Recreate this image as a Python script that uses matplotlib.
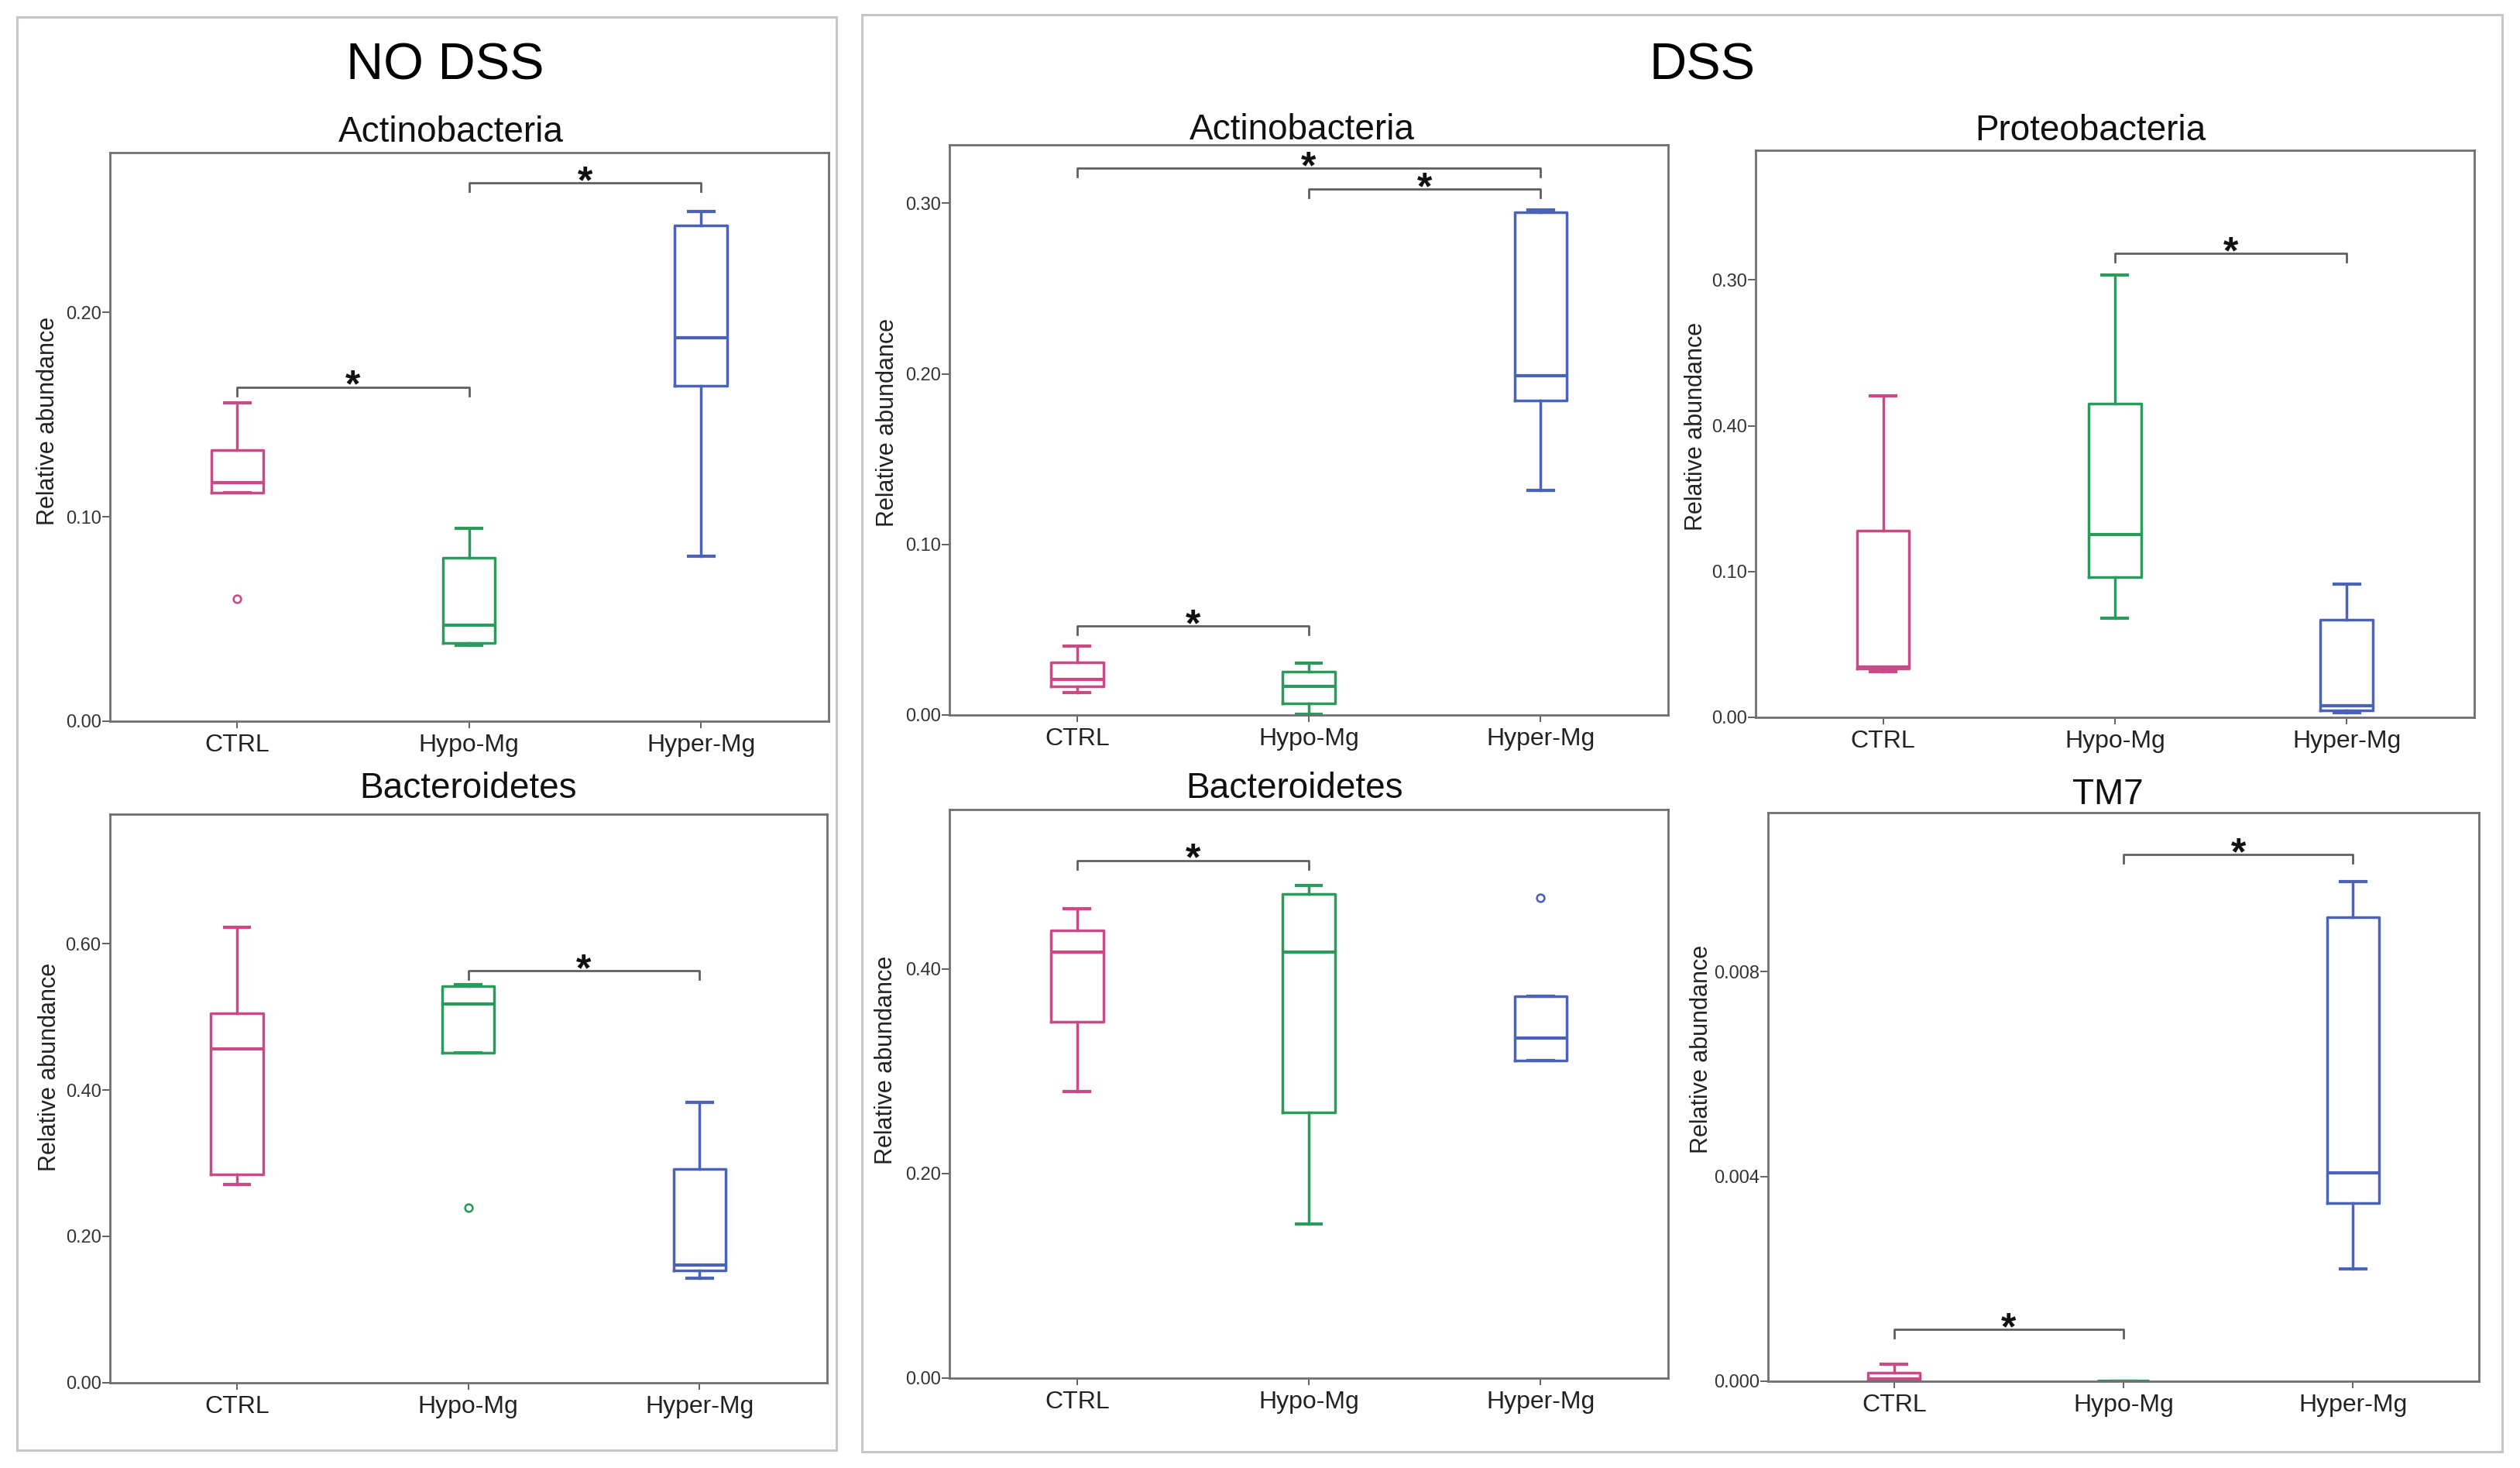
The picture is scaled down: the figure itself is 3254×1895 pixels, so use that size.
import matplotlib
matplotlib.use("Agg")
import matplotlib.pyplot as plt
from matplotlib.patches import Rectangle

plt.rcParams['font.family'] = ['Liberation Sans', 'DejaVu Sans']

groups = ["CTRL", "Hypo-Mg", "Hyper-Mg"]
group_colors = ["#c94b86", "#2a9b5d", "#4b62b9"]

# box stats per group: [whisker low, q1, median, q3, whisker high]
nodss_actino = [[0.1118, 0.1118, 0.1166, 0.1327, 0.1557],
                [0.0372, 0.0384, 0.0469, 0.0799, 0.0943],
                [0.0806, 0.1640, 0.1877, 0.2427, 0.2493]]
nodss_actino_fliers = [[0.0597], [], []]
nodss_actino_sig = [(0, 1, 0.1635), (1, 2, 0.2635)]

nodss_bact = [[0.2703, 0.2842, 0.4566, 0.5046, 0.6227],
              [0.4510, 0.4510, 0.5179, 0.5419, 0.5438],
              [0.1427, 0.1528, 0.1604, 0.2918, 0.3834]]
nodss_bact_fliers = [[], [0.2394], []]
nodss_bact_sig = [(1, 2, 0.5634)]

dss_actino = [[0.0133, 0.0167, 0.0210, 0.0309, 0.0403],
              [0.0006, 0.0068, 0.0167, 0.0253, 0.0304],
              [0.1317, 0.1842, 0.1990, 0.2949, 0.2963]]
dss_actino_fliers = [[], [], []]
dss_actino_sig = [(0, 2, 0.3207), (1, 2, 0.3085), (0, 1, 0.0522)]

dss_proteo = [[0.0312, 0.0332, 0.0345, 0.1278, 0.2204],
              [0.0680, 0.0959, 0.1255, 0.2154, 0.3033],
              [0.0033, 0.0050, 0.0080, 0.0670, 0.0913]]
dss_proteo_fliers = [[], [], []]
dss_proteo_sig = [(1, 2, 0.3183)]

dss_bact = [[0.2804, 0.3485, 0.4167, 0.4375, 0.4587],
            [0.1503, 0.2596, 0.4167, 0.4731, 0.4817],
            [0.3106, 0.3106, 0.3323, 0.3729, 0.3729]]
dss_bact_fliers = [[], [], [0.4691]]
dss_bact_sig = [(0, 1, 0.5061)]

dss_tm7 = [[0.0, 0.0, 0.00005, 0.000172, 0.000325],
           [0.0, 0.0, 0.0, 0.0, 0.0],
           [0.002194, 0.003476, 0.004063, 0.009066, 0.009752]]
dss_tm7_fliers = [[], [], []]
dss_tm7_sig = [(1, 2, 0.010285), (0, 1, 0.001011)]

ticks_01 = [0.0, 0.1, 0.2]
ticks_0123 = [0.0, 0.1, 0.2, 0.3]
ticks_bact6 = [0.0, 0.2, 0.4, 0.6]
ticks_bact4 = [0.0, 0.2, 0.4]
ticks_tm7 = [0.0, 0.004, 0.008]
labels_01 = ["0.00", "0.10", "0.20"]
labels_0123 = ["0.00", "0.10", "0.20", "0.30"]
labels_proteo = ["0.00", "0.10", "0.40", "0.30"]  # as printed in the original
labels_bact6 = ["0.00", "0.20", "0.40", "0.60"]
labels_bact4 = ["0.00", "0.20", "0.40"]
labels_tm7 = ["0.000", "0.004", "0.008"]

fig = plt.figure(figsize=(32.55, 18.95), dpi=100)

# outer frames
for rx, ry, rw, rh in [(0.00688, 0.01214, 0.32492, 0.97631),
                       (0.34194, 0.01108, 0.65069, 0.97902)]:
    fig.add_artist(Rectangle((rx, ry), rw, rh, transform=fig.transFigure,
                             fill=False, ec="#c6c6c6", lw=2.2))

fig.text(0.1767, 0.9457, "NO DSS", ha="center", va="baseline", fontsize=48)
fig.text(0.6753, 0.9457, "DSS", ha="center", va="baseline", fontsize=48)


def draw_panel(rect, title, stats, fliers, sig, ymax, yticks, yticklabels,
               title_xy, ylabel_xy):
    ax = fig.add_axes(rect)
    bstats = []
    for name, s, fl in zip(groups, stats, fliers):
        bstats.append(dict(label=name, whislo=s[0], q1=s[1], med=s[2],
                           q3=s[3], whishi=s[4], fliers=fl))
    parts = ax.bxp(bstats, positions=[1, 2, 3], widths=0.225, capwidths=0.11)
    for i, c in enumerate(group_colors):
        parts['boxes'][i].set(color=c, lw=2.5)
        parts['medians'][i].set(color=c, lw=3.0)
        for w in parts['whiskers'][2 * i:2 * i + 2]:
            w.set(color=c, lw=2.5)
        for cp in parts['caps'][2 * i:2 * i + 2]:
            cp.set(color=c, lw=3.0)
        parts['fliers'][i].set(marker='o', markerfacecolor='none',
                               markeredgecolor=c, markersize=7,
                               markeredgewidth=1.9)

    ax.set_xlim(0.45, 3.55)
    ax.set_ylim(0, ymax)
    ax.set_yticks(yticks)
    ax.set_yticklabels(yticklabels)
    ax.set_xticks([1, 2, 3])
    ax.set_xticklabels(groups)
    ax.tick_params(axis='y', direction='out', length=7, width=1.3,
                   color='#555555', labelsize=17, pad=1, labelcolor='#333333')
    ax.tick_params(axis='x', direction='out', length=6.5, width=1.3,
                   color='#555555', labelsize=23, pad=5, labelcolor='#222222')
    for sp in ax.spines.values():
        sp.set(color='#707070', lw=2.0)

    drop = 0.015 * ymax
    for a, b, y in sig:
        x1, x2 = a + 1, b + 1
        ax.plot([x1, x1, x2, x2], [y - drop, y, y, y - drop], color='#606060',
                lw=2.0, clip_on=False)
        ax.annotate("*", xy=((x1 + x2) / 2, y), xytext=(0, -9.5),
                    textcoords='offset points', ha='center', va='baseline',
                    fontsize=36, fontweight='bold', color='#111111')

    ax.text(title_xy[0], title_xy[1], title, transform=ax.transAxes,
            ha='center', va='baseline', fontsize=33, color='#111111')
    ax.text(ylabel_xy[0], ylabel_xy[1], "Relative abundance",
            transform=ax.transAxes, rotation=90, ha='center', va='center',
            fontsize=22, color='#222222')
    return ax


draw_panel([0.04353, 0.50871, 0.28513, 0.38707], "Actinobacteria",
           nodss_actino, nodss_actino_fliers, nodss_actino_sig, 0.278,
           ticks_01, labels_01, (0.4744, 1.0204), (-0.0862, 0.528))
draw_panel([0.04353, 0.05821, 0.28450, 0.38739], "Bacteroidetes",
           nodss_bact, nodss_bact_fliers, nodss_bact_sig, 0.7775,
           ticks_bact6, labels_bact6, (0.5, 1.0275), (-0.0834, 0.5548))
draw_panel([0.37675, 0.51293, 0.28491, 0.38813], "Actinobacteria",
           dss_actino, dss_actino_fliers, dss_actino_sig, 0.334,
           ticks_0123, labels_0123, (0.4903, 1.0102), (-0.087, 0.513))
draw_panel([0.69647, 0.51135, 0.28500, 0.38641], "Proteobacteria",
           dss_proteo, dss_proteo_fliers, dss_proteo_sig, 0.389,
           ticks_0123, labels_proteo, (0.4664, 1.0174), (-0.0827, 0.5135))
draw_panel([0.37675, 0.06137, 0.28491, 0.38734], "Bacteroidetes",
           dss_bact, dss_bact_fliers, dss_bact_sig, 0.556,
           ticks_bact4, labels_bact4, (0.4803, 1.0203), (-0.0885, 0.5589))
draw_panel([0.70132, 0.05916, 0.28224, 0.38707], "TM7",
           dss_tm7, dss_tm7_fliers, dss_tm7_sig, 0.0111,
           ticks_tm7, labels_tm7, (0.4776, 1.0162), (-0.0933, 0.5838))

fig.savefig("out.png", dpi=100, facecolor="white")
